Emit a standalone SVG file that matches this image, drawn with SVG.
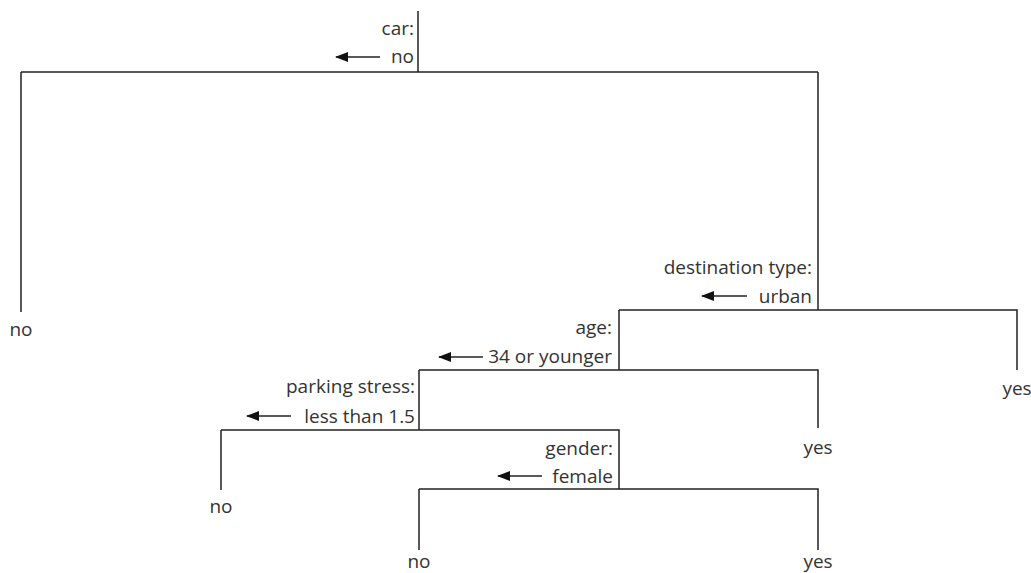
<svg xmlns="http://www.w3.org/2000/svg" width="1031" height="573" viewBox="0 0 1031 573">
<style>
text{font-family:"Open Sans","Noto Sans","DejaVu Sans",sans-serif;font-size:19px;fill:#333}
.r{text-anchor:end}
.c{text-anchor:middle}
.e{stroke:#222;stroke-width:1.5;fill:none}
.a{stroke:#222;stroke-width:1.3;fill:none;marker-end:url(#ah)}
</style>
<defs>
<marker id="ah" markerWidth="13" markerHeight="10" refX="12" refY="5" orient="auto" markerUnits="userSpaceOnUse">
<path d="M0,0 L13,5 L0,10 z" fill="#111"/>
</marker>
</defs>
<g id="connectors">
<path class="e" d="M418,11 V72 M21,72 H818 M21,72 V312 M818,72 V310"/>
<path class="e" d="M619,310 H1017 V370 M619,310 V370"/>
<path class="e" d="M419,370 H818 V428 M419,370 V430"/>
<path class="e" d="M221,430 H619 V489 M221,430 V490"/>
<path class="e" d="M419,489 H818 V550 M419,489 V550"/>
<path class="a" d="M380,57 H336"/>
<path class="a" d="M747,296 H702"/>
<path class="a" d="M483,357 H439"/>
<path class="a" d="M291,416 H247"/>
<path class="a" d="M542,476 H498"/>
</g>
<g id="n-car"><text class="r" x="414" y="35">car:</text><text class="r" x="414" y="63">no</text></g>
<g id="n-dest"><text class="r" x="812" y="274">destination type:</text><text class="r" x="812" y="303">urban</text></g>
<g id="n-age"><text class="r" x="612" y="334">age:</text><text class="r" x="612" y="363">34 or younger</text></g>
<g id="n-park"><text class="r" x="415" y="393">parking stress:</text><text class="r" x="415" y="423">less than 1.5</text></g>
<g id="n-gender"><text class="r" x="613" y="455">gender:</text><text class="r" x="613" y="483">female</text></g>
<g id="leaf1"><text class="c" x="21" y="336">no</text></g>
<g id="leaf2"><text class="c" x="1017" y="395">yes</text></g>
<g id="leaf3"><text class="c" x="818" y="454">yes</text></g>
<g id="leaf4"><text class="c" x="221" y="513">no</text></g>
<g id="leaf5"><text class="c" x="419" y="568">no</text></g>
<g id="leaf6"><text class="c" x="818" y="568">yes</text></g>
</svg>
